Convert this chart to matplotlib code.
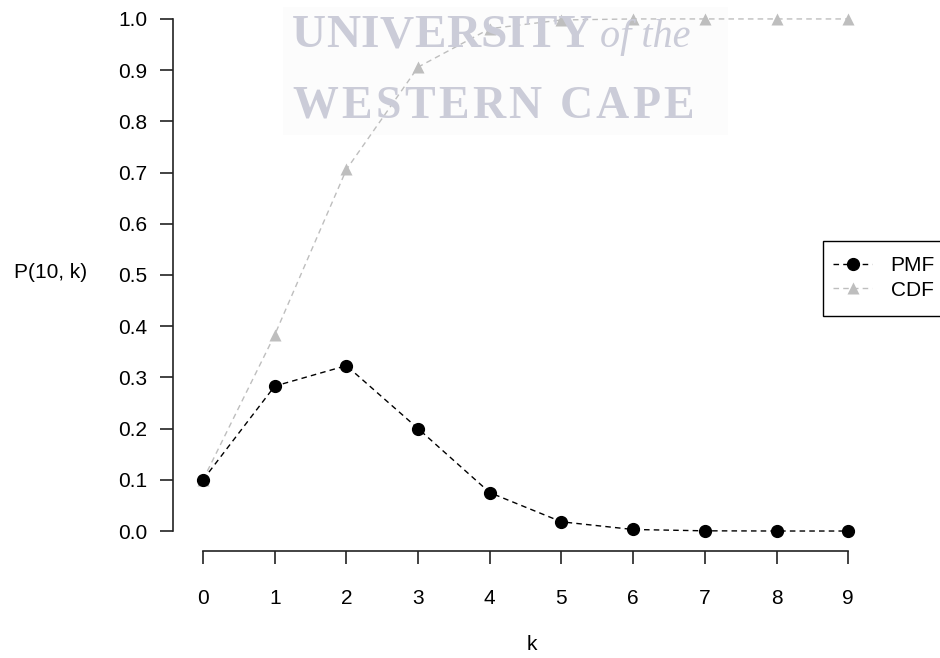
#!/usr/bin/env python3
# PMF and CDF of P(10, k), drawn in the style of an R base plot

import numpy as np
import matplotlib.pyplot as plt
from matplotlib.patches import Rectangle

plt.rcParams['font.family'] = ['Liberation Sans', 'DejaVu Sans']

# data
k = [0, 1, 2, 3, 4, 5, 6, 7, 8, 9]
pmf = [0.100, 0.283, 0.323, 0.200, 0.075, 0.018, 0.003, 0.0004, 0.00003, 0.000001]
cdf = [0.100, 0.383, 0.706, 0.906, 0.981, 0.998, 1.000, 1.000, 1.000, 1.000]
yticks = [0.0, 0.1, 0.2, 0.3, 0.4, 0.5, 0.6, 0.7, 0.8, 0.9, 1.0]

W, H = 940, 658
FS = 15
fig = plt.figure(figsize=(W / 100, H / 100), dpi=100)
renderer = fig.canvas.get_renderer()

# plot region in pixels (R style, axes offset from data)
left, right, bottom, top = 173, 874, 551, 0
ax = fig.add_axes([left / W, 1 - bottom / H, (right - left) / W, (bottom - top) / H])
ax.set_xlim(-0.419, 9.36)
ax.set_ylim(-0.039, 1.037)


def tracked_text(x0, y, s, track, **kw):
    # draw a string letter by letter with extra spacing (pixels)
    x = x0
    for ch in s:
        t = fig.text(x / W, 1 - y / H, ch, **kw)
        w = t.get_window_extent(renderer).width
        if ch == ' ':
            w = kw['fontsize'] * 100 / 72 * 0.25
        x += w + track


# faint watermark
ax.add_patch(Rectangle((283 / W, 1 - 135 / H), 445 / W, 128 / H,
                       transform=fig.transFigure, facecolor='#fcfcfc',
                       edgecolor='none', zorder=0))
wm = dict(family='Liberation Serif', color='#cbccd8', zorder=0.5)
tracked_text(292, 47, 'UNIVERSITY', 0.3, weight='bold', fontsize=34, **wm)
fig.text(600 / W, 1 - 47 / H, 'of the', style='italic', fontsize=29, **wm)
tracked_text(292, 118, 'WESTERN CAPE', 3.3, weight='bold', fontsize=33, **wm)

ax.plot(k, cdf, linestyle='--', dashes=(4, 3), color='#bebebe', linewidth=1,
        marker='^', markersize=8.5, markeredgecolor='none', label='CDF',
        clip_on=False, zorder=3)
ax.plot(k, pmf, linestyle='--', dashes=(4, 3), color='black', linewidth=1,
        marker='o', markersize=8.5, label='PMF', clip_on=False, zorder=4)

# axes like R: no box, spines only over the tick range
for s in ['top', 'right']:
    ax.spines[s].set_visible(False)
ax.spines['left'].set_bounds(0, 1)
ax.spines['bottom'].set_bounds(0, 9)
for s in ['left', 'bottom']:
    ax.spines[s].set_color('#222222')
    ax.spines[s].set_linewidth(1.2)

ax.set_xticks(k)
ax.set_yticks(yticks)
ax.set_yticklabels(['%.1f' % v for v in yticks])
ax.tick_params(axis='both', length=9.5, width=1.2, color='#222222',
               labelsize=FS)
ax.tick_params(axis='y', pad=9)
ax.tick_params(axis='x', pad=18)

fig.text(51 / W, 1 - 272 / H, 'P(10, k)', fontsize=FS, ha='center', va='center')
fig.text(532 / W, 1 - 645 / H, 'k', fontsize=FS, ha='center', va='center')

# legend: box runs past the right edge as in the reference
fig.patches.append(Rectangle((823 / W, 1 - 316 / H), 130 / W, 75 / H,
                             transform=fig.transFigure, facecolor='white',
                             edgecolor='black', linewidth=1, zorder=5))
handles, labels = ax.get_legend_handles_labels()
leg = fig.legend(handles[::-1], ['PMF', 'CDF'], loc='upper left',
                 bbox_to_anchor=(825 / W, 1 - 248 / H), fontsize=FS,
                 frameon=False, handlelength=1.85, handletextpad=0.9,
                 borderpad=0.4, labelspacing=0.25, borderaxespad=0)
leg.set_zorder(6)

plt.savefig('out.png', dpi=100)
